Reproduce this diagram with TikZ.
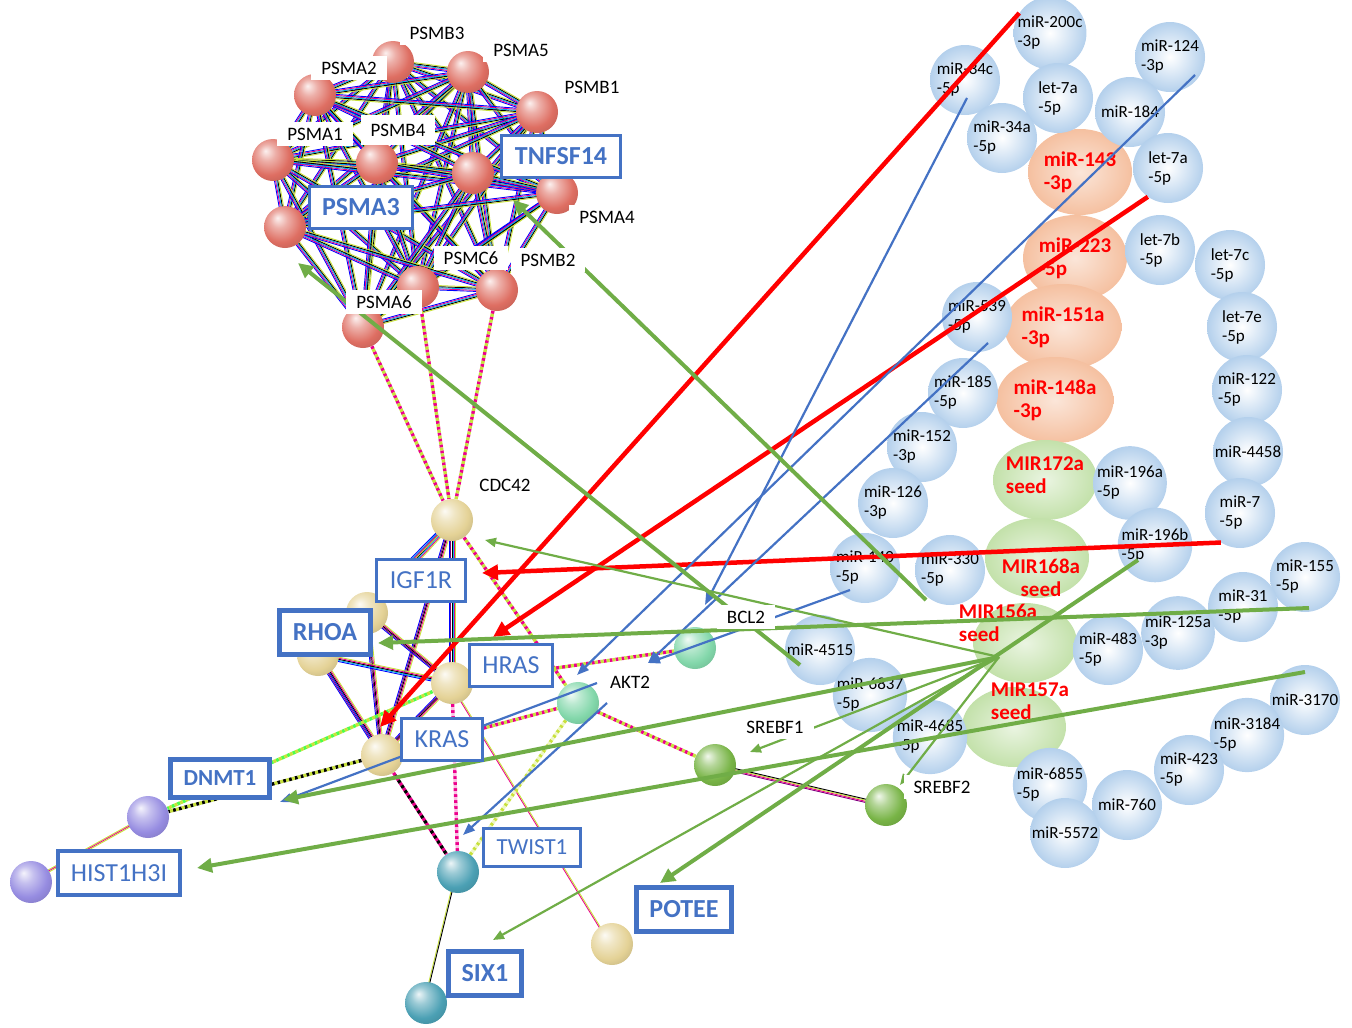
\documentclass[tikz,border=0pt]{standalone}
\usepackage{fontspec}
\setmainfont{Carlito}
\usepackage{tikz}
\usetikzlibrary{calc, arrows.meta, shapes.geometric}
\definecolor{oblue}{RGB}{68, 114, 196}
\definecolor{ogreen}{RGB}{112, 173, 71}
\definecolor{ored}{RGB}{255, 0, 0}
\definecolor{mirblue}{RGB}{180, 208, 236}
\definecolor{mirpeach}{RGB}{245, 192, 160}
\definecolor{mirleaf}{RGB}{195, 225, 170}
\definecolor{pred}{RGB}{222, 110, 98}
\definecolor{ptan}{RGB}{228, 210, 150}
\definecolor{pmint}{RGB}{130, 215, 170}
\definecolor{pleaf}{RGB}{120, 180, 70}
\definecolor{plilac}{RGB}{150, 140, 225}
\definecolor{pteal}{RGB}{75, 160, 180}
\definecolor{limey}{RGB}{200, 225, 60}
\colorlet{protcol}{pred}

\pgfdeclareradialshading[protcol]{protball}{\pgfpoint{-9bp}{11bp}}{%
  color(0bp)=(protcol!10!white); color(10bp)=(protcol!55!white);
  color(24bp)=(protcol); color(36bp)=(protcol!85!black); color(52bp)=(protcol!62!black)}

\pgfdeclarelayer{bubbles}
\pgfdeclarelayer{net}
\pgfdeclarelayer{front}
\pgfsetlayers{bubbles,net,main,front}

% bundle of thin coloured edges between two proteins
\newcommand{\bund}[3]{%
  \foreach \cc [count=\k] in {#3} {%
    \pgfmathsetmacro{\off}{(\k-3)*1.1}%
    \draw[\cc, line width=0.9pt] ($(#1)!\off pt!90:(#2)$) -- ($(#2)!\off pt!-90:(#1)$);
  }}
% two-coloured dotted edge
\newcommand{\dotl}[4]{%
  \draw[#3, line width=3.4pt, dash pattern=on 3pt off 3pt] (#1) -- (#2);
  \draw[#4, line width=3.4pt, dash pattern=on 3pt off 3pt, dash phase=3pt] (#1) -- (#2);}

\begin{document}
\begin{tikzpicture}[x=1pt, y=-1pt,
  mir/.style={circle, minimum size=70pt, inner sep=0pt, inner color=white, outer color=mirblue, align=left, font=\fontsize{17}{19}\selectfont},
  hot/.style={ellipse, minimum width=104pt, minimum height=86pt, inner sep=0pt, inner color=mirpeach!40, outer color=mirpeach, align=left, text=ored, font=\bfseries\fontsize{21}{23}\selectfont},
  seedblob/.style={ellipse, minimum width=104pt, minimum height=80pt, inner sep=0pt, inner color=mirleaf!35, outer color=mirleaf},
  seedtxt/.style={align=left, text=ored, inner sep=0pt, font=\bfseries\fontsize{21}{23}\selectfont},
  prot/.style={circle, minimum size=42pt, inner sep=0pt, /utils/exec={\colorlet{protcol}{#1}}, shade, shading=protball},
  plab/.style={fill=white, inner xsep=10pt, inner ysep=6pt, font=\fontsize{19}{21}\selectfont},
  gbox/.style={draw=oblue, line width=3pt, fill=white, text=oblue, inner xsep=13pt, minimum height=42pt, font=\fontsize{26}{28}\selectfont},
  gboxb/.style={gbox, line width=5pt, minimum height=44pt, font=\bfseries\fontsize{26}{28}\selectfont},
  redarr/.style={draw=ored, line width=4.5pt, -{Triangle[length=16pt, width=15pt]}},
  grnarr/.style={draw=ogreen, line width=4pt, -{Triangle[length=15pt, width=14pt]}},
  grnthin/.style={draw=ogreen, line width=2.2pt, -{Triangle[length=11pt, width=9pt]}},
  bluarr/.style={draw=oblue, line width=2.2pt, -{Triangle[length=12pt, width=9pt]}}
]

\useasboundingbox (0,0) rectangle (1352,1028);

% miRNA bubbles
\begin{pgfonlayer}{bubbles}
\node[hot] (m143) at (1080,172) {miR-143\\-3p};
\node[hot] (m223) at (1075,258) {miR-223\\-5p};
\node[hot] (m151a) at (1063,327) {miR-151a\\-3p};
\node[hot] (m148a) at (1055,400) {miR-148a\\-3p};
\node[seedblob] (s172) at (1045,480) {};
\node[seedblob] (s168) at (1037,558) {};
\node[seedblob] (s156) at (1025,643) {};
\node[seedblob] (s157) at (1014,727) {};

\node[mir] (m200c) at (1050,33) {miR-200c\\-3p};
\node[mir] (m34c) at (965,80) {miR-34c\\-5p};
\node[mir] (m7a) at (1058,98) {let-7a\\-5p};
\node[mir] (m124) at (1170,57) {miR-124\\-3p};
\node[mir] (m184) at (1130,112) {miR-184};
\node[mir] (m34a) at (1002,138) {miR-34a\\-5p};
\node[mir] (m7a2) at (1168,168) {let-7a\\-5p};
\node[mir] (m7b) at (1160,250) {let-7b\\-5p};
\node[mir] (m7c) at (1230,265) {let-7c\\-5p};
\node[mir] (m539) at (977,317) {miR-539\\-5p};
\node[mir] (m7e) at (1242,327) {let-7e\\-5p};
\node[mir] (m185) at (963,393) {miR-185\\-5p};
\node[mir] (m122) at (1247,390) {miR-122\\-5p};
\node[mir] (m152) at (922,447) {miR-152\\-3p};
\node[mir] (m4458) at (1248,452) {miR-4458};
\node[mir] (m196a) at (1130,483) {miR-196a\\-5p};
\node[mir] (m126) at (893,503) {miR-126\\-3p};
\node[mir] (m7) at (1240,513) {miR-7\\-5p};
\node[mir] (m196b) at (1155,545) {miR-196b\\-5p};
\node[mir] (m140) at (865,568) {miR-140\\-5p};
\node[mir] (m330) at (950,570) {miR-330\\-5p};
\node[mir] (m155) at (1305,577) {miR-155\\-5p};
\node[mir] (m31) at (1243,607) {miR-31\\-5p};
\node[mir] (m125a) at (1178,633) {miR-125a\\-3p};
\node[mir] (m483) at (1108,650) {miR-483\\-5p};
\node[mir] (m4515) at (820,650) {miR-4515};
\node[mir] (m6837) at (870,695) {miR-6837\\-5p};
\node[mir] (m4685) at (930,737) {miR-4685\\-5p};
\node[mir] (m3170) at (1305,700) {miR-3170};
\node[mir] (m3184) at (1247,735) {miR-3184\\-5p};
\node[mir] (m423) at (1189,770) {miR-423\\-5p};
\node[mir] (m6855) at (1050,785) {miR-6855\\-5p};
\node[mir] (m760) at (1127,805) {miR-760};
\node[mir] (m5572) at (1065,833) {miR-5572};

\node[seedtxt] (t172) at (1045,475) {MIR172a\\seed};
\node[seedtxt, align=center] (t168) at (1041,578) {MIR168a\\seed};
\node[seedtxt] (t156) at (998,623) {MIR156a\\seed};
\node[seedtxt] (t157) at (1030,701) {MIR157a\\seed};
\end{pgfonlayer}

% proteins
\node[prot=pred] (psmb3) at (393,62) {};
\node[prot=pred] (psma5) at (468,72) {};
\node[prot=pred] (psmb1) at (537,112) {};
\node[prot=pred] (psma2) at (315,95) {};
\node[prot=pred] (psma1) at (273,160) {};
\node[prot=pred] (psmb4) at (377,163) {};
\node[prot=pred] (tnfsf) at (473,173) {};
\node[prot=pred] (psma4) at (557,193) {};
\node[prot=pred] (psma3) at (285,227) {};
\node[prot=pred] (psmc6) at (418,287) {};
\node[prot=pred] (psmb2) at (497,290) {};
\node[prot=pred] (psma6) at (363,327) {};

\node[prot=ptan] (cdc42) at (452,520) {};
\node[prot=ptan] (igf1r) at (367,613) {};
\node[prot=ptan] (rhoa) at (318,655) {};
\node[prot=ptan] (hras) at (452,683) {};
\node[prot=ptan] (kras) at (382,755) {};
\node[prot=pmint] (bcl2) at (695,648) {};
\node[prot=pmint] (akt2) at (578,703) {};
\node[prot=pleaf] (srebf1) at (715,765) {};
\node[prot=pleaf] (srebf2) at (886,805) {};
\node[prot=plilac] (dnmt1) at (148,817) {};
\node[prot=plilac] (hist) at (31,882) {};
\node[prot=pteal] (twist1) at (458,872) {};
\node[prot=pteal] (six1) at (426,1003) {};
\node[prot=ptan] (potee) at (612,944) {};

% labels
\begin{pgfonlayer}{front}
\node[plab] (tpsmb3) at (437,33) {PSMB3};
\node[plab] (tpsma5) at (521,50) {PSMA5};
\node[plab] (tpsmb1) at (592,87) {PSMB1};
\node[plab] (tpsma2) at (349,68) {PSMA2};
\node[plab] (tpsma1) at (315,134) {PSMA1};
\node[plab, inner ysep=9pt] (tpsmb4) at (398,130) {PSMB4};
\node[plab] (tpsma4) at (607,217) {PSMA4};
\node[plab] (tpsmc6) at (471,258) {PSMC6};
\node[plab] (tpsmb2) at (548,260) {PSMB2};
\node[plab] (tpsma6) at (384,302) {PSMA6};
\node[plab] (tcdc42) at (505,485) {CDC42};
\node[plab] (tbcl2) at (746,617) {BCL2};
\node[plab] (takt2) at (630,682) {AKT2};
\node[plab] (tsrebf1) at (775,727) {SREBF1};
\node[plab] (tsrebf2) at (942,787) {SREBF2};

\node[gbox, font=\bfseries\fontsize{26}{28}\selectfont] (ltnf) at (561,156) {TNFSF14};
\node[gbox, font=\bfseries\fontsize{26}{28}\selectfont] (lpsma3) at (361,207) {PSMA3};
\node[gbox] (ligf) at (421,580) {IGF1R};
\node[gboxb] (lrhoa) at (325,632) {RHOA};
\node[gbox] (lhras) at (511,665) {HRAS};
\node[gbox] (lkras) at (442,739) {KRAS};
\node[gboxb, minimum height=38pt, font=\bfseries\fontsize{23}{25}\selectfont] (ldnmt) at (220,778) {DNMT1};
\node[gbox, line width=4pt, minimum height=44pt] (lhist) at (119,873) {HIST1H3I};
\node[gbox, minimum height=38pt, font=\fontsize{23}{25}\selectfont] (ltwist) at (532,847) {TWIST1};
\node[gboxb] (lsix) at (485,973) {SIX1};
\node[gboxb] (lpotee) at (684,909) {POTEE};
\end{pgfonlayer}

% interaction network
\begin{pgfonlayer}{net}
\foreach \a [count=\i] in {psmb3,psma5,psmb1,psma2,psma1,psmb4,tnfsf,psma4,psma3,psmc6,psmb2,psma6} {
  \foreach \b [count=\j] in {psmb3,psma5,psmb1,psma2,psma1,psmb4,tnfsf,psma4,psma3,psmc6,psmb2,psma6} {
    \ifnum\j>\i
      \bund{\a}{\b}{blue,magenta,cyan,black,limey}
    \fi
  }
}
\bund{cdc42}{igf1r}{blue,violet,black,cyan,magenta,limey}
\bund{cdc42}{hras}{blue,violet,black,cyan,magenta,limey}
\bund{cdc42}{kras}{blue,violet,black,magenta,limey}
\bund{cdc42}{rhoa}{blue,cyan,magenta,limey}
\bund{igf1r}{rhoa}{blue,violet,black,magenta,limey}
\bund{igf1r}{hras}{blue,violet,black,magenta,limey}
\bund{igf1r}{kras}{blue,violet,black,magenta,limey}
\bund{rhoa}{kras}{blue,violet,blue,black,magenta,limey}
\bund{rhoa}{hras}{blue,cyan,black,magenta,limey}
\bund{hras}{kras}{blue,violet,black,magenta,limey}
\bund{srebf1}{srebf2}{violet,magenta,limey,black}
\bund{dnmt1}{hist}{limey,magenta,limey}
\bund{twist1}{six1}{limey,black}
\bund{hras}{potee}{magenta,limey}

\dotl{psma6}{cdc42}{magenta}{limey}
\dotl{psmc6}{cdc42}{magenta}{limey}
\dotl{psmb2}{cdc42}{magenta}{limey}
\dotl{cdc42}{akt2}{magenta}{limey}
\dotl{hras}{bcl2}{magenta}{limey}
\dotl{kras}{akt2}{magenta}{limey}
\dotl{akt2}{srebf1}{magenta}{limey}
\dotl{kras}{dnmt1}{black}{limey}
\dotl{hras}{dnmt1}{green!70}{limey}
\dotl{kras}{twist1}{magenta}{black}
\dotl{hras}{twist1}{magenta}{magenta!25}
\dotl{akt2}{twist1}{limey}{limey!30}
\end{pgfonlayer}

\coordinate (hub) at (999,657);
\coordinate (g4s) at (1309,608);

% red: miRNA to target
\draw[redarr] (m200c.147) -- ([shift={(-2,-28)}]kras.center);
\draw[redarr] (m7a2.235) -- ([shift={(-18,-28)}]lhras.center);
\draw[redarr] (m7.237) -- ([shift={(61,-7)}]ligf.center);

% blue
\draw[bluarr] ([shift={(2,18)}]m34c.center) -- ([shift={(-41,-12)}]tbcl2.center);
\draw[bluarr] ([shift={(25,18)}]m124.center) -- ([shift={(-1,-28)}]akt2.center);
\draw[bluarr] ([shift={(11,26)}]m539.center) -- ([shift={(-47,15)}]bcl2.center);
\draw[bluarr] ([shift={(-15,22)}]m140.center) -- ([shift={(-47,15)}]bcl2.center);
\draw[bluarr] ([shift={(19,-20)}]akt2.center) -- ([shift={(60,24)}]ldnmt.center);
\draw[bluarr] ([shift={(29,0)}]akt2.center) -- ([shift={(5,-37)}]twist1.center);

% green
\draw[grnarr] ([shift={(-20,15)}]m4515.center) -- ([shift={(13,36)}]psma3.center);
\draw[grnarr] ([shift={(-24,30)}]m330.center) -- ([shift={(-48,44)}]ltnf.center);
\draw[grnthin] (hub) -- ([shift={(33,20)}]cdc42.center);
\draw[grnarr] (g4s) -- ([shift={(53,11)}]lrhoa.center);
\draw[grnarr] (hub) -- ([shift={(63,22)}]ldnmt.center);
\draw[grnarr] ([shift={(0,-28)}]m3170.center) -- ([shift={(78,-5)}]lhist.center);
\draw[grnthin] (hub) -- ([shift={(35,-13)}]srebf1.center);
\draw[grnthin] (hub) -- ([shift={(8,-33)}]lsix.center);
\draw[grnarr] ([shift={(-17,15)}]m196b.center) -- ([shift={(-24,-26)}]lpotee.center);
\draw[grnthin] (hub) -- ([shift={(14,-20)}]srebf2.center);

\end{tikzpicture}
\end{document}
